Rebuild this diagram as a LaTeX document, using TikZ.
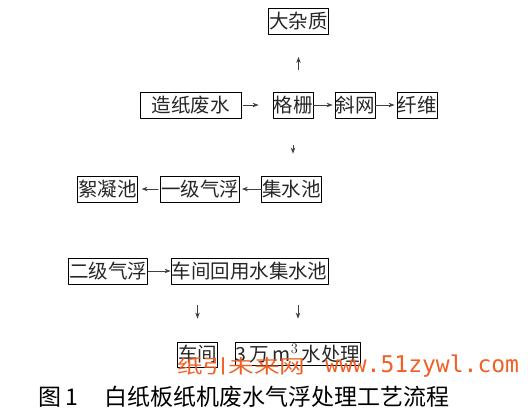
\documentclass[tikz,border=0pt]{standalone}
\usepackage{fontspec}
\usepackage{graphicx}
\usetikzlibrary{arrows.meta}
\newfontfamily\cjk{Noto Sans CJK SC}
\newfontfamily\wmono{DejaVu Sans Mono}
\definecolor{wmark}{RGB}{240,95,35}
\begin{document}
\begin{tikzpicture}[x=1pt, y=-1pt, line cap=round, line join=round,
    unit/.style={draw, line width=0.8pt, inner xsep=0.5pt, inner ysep=0pt,
      minimum height=26pt, font=\cjk\fontsize{19.5}{20}\selectfont, text=black!85},
    arr/.style={-{Stealth[length=6pt,width=4.5pt]}, line width=0.8pt, black!75},
    wm/.style={anchor=west, inner sep=0pt, text=wmark}]
  \useasboundingbox (0,0) rectangle (528,416);
  % first row
  \node[unit] (impurity) at (298.5,21.5) {大杂质};
  \node[unit, minimum width=101pt] (rawwater) at (190.5,105) {造纸废水};
  \node[unit] (grid) at (293,105) {格栅};
  \node[unit] (screen) at (355,105) {斜网};
  \node[unit] (fibre) at (417,105) {纤维};
  \draw[arr, shorten <=2pt, shorten >=14pt] (rawwater) -- (grid);
  \draw[arr, shorten >=2pt] (grid) -- (screen);
  \draw[arr, shorten >=2pt] (screen) -- (fibre);
  \draw[arr, shorten <=22pt, shorten >=22pt] (grid.north -| impurity.south) -- (impurity.south);
  % second row
  \node[unit] (sump) at (291.5,189) {集水池};
  \node[unit] (flotA) at (200,189) {一级气浮};
  \node[unit] (floc) at (107.5,189) {絮凝池};
  \draw[arr, shorten <=27pt, shorten >=22pt] (grid.south) -- (grid.south |- sump.north);
  \draw[arr, shorten >=2pt] (sump) -- (flotA);
  \draw[arr, shorten <=2pt, shorten >=4pt] (flotA) -- (floc);
  % third row
  \node[unit] (flotB) at (108,271) {二级气浮};
  \node[unit] (reuse) at (249.5,271) {车间回用水集水池};
  \draw[arr] (flotB) -- (reuse);
  % last row
  \node[unit, minimum height=25pt] (shop) at (197.5,354.5) {车间};
  \node[unit, minimum width=120pt, minimum height=23pt] (treat) at (298,353.5)
    {3\,万\,m$^{3}$\,水处理};
  \draw[arr, shorten <=21pt, shorten >=23pt] (reuse.south -| shop.north) -- (shop.north);
  \draw[arr, shorten <=21pt, shorten >=23pt] (reuse.south -| treat.north) -- (treat.north);
  % watermark
  \node[wm, font=\cjk\fontsize{19}{19}\selectfont] (wmcn) at (177,366)
    {\scalebox{1.35}[1]{纸引未来网}};
  \node[wm, font=\wmono\fontsize{23}{23}\selectfont] (wmurl) at (325,366) {www.51zywl.com};
  % caption
  \node[anchor=west, inner sep=0pt, font=\cjk\fontsize{23}{23}\selectfont] (figno)
    at (38,397) {图\,1};
  \node[anchor=west, inner sep=0pt, font=\cjk\fontsize{23}{23}\selectfont] (figtitle)
    at (104,397) {白纸板纸机废水气浮处理工艺流程};
\end{tikzpicture}
\end{document}
